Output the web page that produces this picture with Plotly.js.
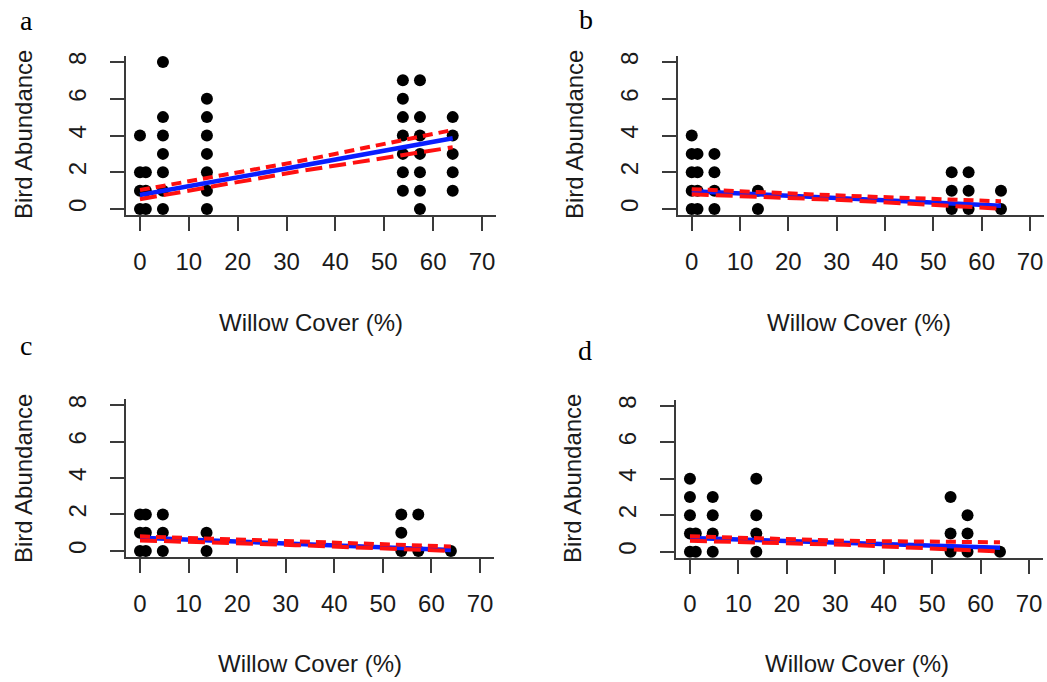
<!DOCTYPE html>
<html>
<head>
<meta charset="utf-8">
<script src="https://cdn.plot.ly/plotly-3.0.1.min.js"></script>
<style>
  html, body { margin: 0; padding: 0; background: #ffffff; }
  #chart { width: 1047px; height: 682px; }
</style>
</head>
<body>
<div id="chart"></div>
<script>
// ---------- DATA ----------
const panelLabels = ["a", "b", "c", "d"];
const xTickVals = [0, 10, 20, 30, 40, 50, 60, 70];
const yTickVals = [0, 2, 4, 6, 8];
const xTitle = "Willow Cover (%)";
const yTitle = "Bird Abundance";

// Panel a – observed points
const aCover = [0,0,0,0, 1.2,1.2,1.2, 4.7,4.7,4.7,4.7,4.7,4.7,4.7, 13.7,13.7,13.7,13.7,13.7,13.7,13.7, 53.8,53.8,53.8,53.8,53.8,53.8,53.8, 57.3,57.3,57.3,57.3,57.3,57.3,57.3, 64,64,64,64,64];
const aAbund = [4,2,1,0, 2,1,0, 8,5,4,3,2,1,0, 6,5,4,3,2,1,0, 7,6,5,4,3,2,1, 7,5,4,3,2,1,0, 5,4,3,2,1];
// Panel b
const bCover = [0,0,0,0,0, 1.2,1.2,1.2,1.2, 4.7,4.7,4.7,4.7, 13.7,13.7, 53.8,53.8,53.8, 57.3,57.3,57.3, 64,64];
const bAbund = [4,3,2,1,0, 3,2,1,0, 3,2,1,0, 1,0, 2,1,0, 2,1,0, 1,0];
// Panel c
const cCover = [0,0,0, 1.2,1.2,1.2, 4.7,4.7,4.7, 13.7,13.7, 53.8,53.8,53.8, 57.3,57.3, 64];
const cAbund = [2,1,0, 2,1,0, 2,1,0, 1,0, 2,1,0, 2,0, 0];
// Panel d
const dCover = [0,0,0,0,0, 1.2,1.2, 4.7,4.7,4.7,4.7, 13.7,13.7,13.7,13.7, 53.8,53.8,53.8, 57.3,57.3,57.3, 64];
const dAbund = [4,3,2,1,0, 1,0, 3,2,1,0, 4,2,1,0, 3,1,0, 2,1,0, 0];

// Fitted line and confidence limits (read at three cover values)
const fitCover = [0, 32, 64];
const aFit   = [0.76, 2.30, 3.85];
const aUpper = [1.03, 2.57, 4.30];
const aLower = [0.53, 2.03, 3.36];
const bFit   = [0.97, 0.58, 0.18];
const bUpper = [1.08, 0.72, 0.42];
const bLower = [0.80, 0.48, 0.02];
const cFit   = [0.73, 0.40, 0.05];
const cUpper = [0.80, 0.50, 0.25];
const cLower = [0.58, 0.32, 0.00];
const dFit   = [0.76, 0.49, 0.22];
const dUpper = [0.85, 0.60, 0.52];
const dLower = [0.60, 0.38, 0.02];

// ---------- LAYOUT GEOMETRY ----------
const W = 1047, H = 682;
const panels = [
  {cover: aCover, abund: aAbund, fit: aFit, up: aUpper, lo: aLower, px: [126.3, 495.7], py: [214.9, 56.1],
   lab: [26, 21], ytl: [23, 135], xtl: [311, 322]},
  {cover: bCover, abund: bAbund, fit: bFit, up: bUpper, lo: bLower, px: [678.2, 1043.5], py: [214.9, 56.1],
   lab: [586, 20], ytl: [574, 135], xtl: [859, 322]},
  {cover: cCover, abund: cAbund, fit: cFit, up: cUpper, lo: cLower, px: [126.4, 493.6], py: [556.8, 399.2],
   lab: [26, 345], ytl: [23, 479], xtl: [310, 663]},
  {cover: dCover, abund: dAbund, fit: dFit, up: dUpper, lo: dLower, px: [676.4, 1042.6], py: [557.6, 399.8],
   lab: [585, 350], ytl: [572, 479], xtl: [857, 663]}
];

const axisColor = "#3a3a3a";
const tickFont = {family: "Liberation Sans, Arial, sans-serif", size: 24, color: "#1a1a1a"};

const traces = [];
const layout = {
  width: W, height: H,
  margin: {l: 0, r: 0, t: 0, b: 0},
  paper_bgcolor: "#ffffff",
  plot_bgcolor: "rgba(0,0,0,0)",
  showlegend: false,
  annotations: []
};

panels.forEach((p, i) => {
  const n = i === 0 ? "" : String(i + 1);
  const xa = "x" + n, ya = "y" + n;
  traces.push({
    type: "scatter", mode: "markers", x: p.cover, y: p.abund, xaxis: xa, yaxis: ya,
    marker: {color: "#000000", size: 12}, cliponaxis: false, hoverinfo: "skip"
  });
  traces.push({
    type: "scatter", mode: "lines", x: fitCover, y: p.fit, xaxis: xa, yaxis: ya,
    line: {color: "#0a1eff", width: 4.5}, hoverinfo: "skip"
  });
  traces.push({
    type: "scatter", mode: "lines", x: fitCover, y: p.up, xaxis: xa, yaxis: ya,
    line: {color: "#ff1010", width: 4, dash: "10px,6px"}, hoverinfo: "skip"
  });
  traces.push({
    type: "scatter", mode: "lines", x: fitCover, y: p.lo, xaxis: xa, yaxis: ya,
    line: {color: "#ff1010", width: 4, dash: "17px,7px"}, hoverinfo: "skip"
  });

  layout["xaxis" + n] = {
    domain: [p.px[0] / W, p.px[1] / W], anchor: ya,
    range: [-2.8, 72.8], tickmode: "array", tickvals: xTickVals,
    ticks: "outside", ticklen: 14, tickwidth: 2, tickcolor: axisColor,
    showline: true, linecolor: axisColor, linewidth: 2,
    showgrid: false, zeroline: false, tickfont: tickFont, ticklabelstandoff: 10,
    fixedrange: true
  };
  layout["yaxis" + n] = {
    domain: [(H - p.py[0]) / H, (H - p.py[1]) / H], anchor: xa,
    range: [-0.32, 8.32], tickmode: "array", tickvals: yTickVals,
    ticks: "outside", ticklen: 14, tickwidth: 2, tickcolor: axisColor,
    showline: true, linecolor: axisColor, linewidth: 2, tickangle: -90,
    showgrid: false, zeroline: false, tickfont: tickFont, ticklabelstandoff: 15,
    fixedrange: true
  };

  layout.annotations.push({
    xref: "paper", yref: "paper", x: p.lab[0] / W, y: 1 - p.lab[1] / H,
    xanchor: "center", yanchor: "middle", showarrow: false, text: panelLabels[i],
    font: {family: "Liberation Serif, Times New Roman, serif", size: 28, color: "#000000"}
  });
  layout.annotations.push({
    xref: "paper", yref: "paper", x: p.ytl[0] / W, y: 1 - p.ytl[1] / H,
    xanchor: "center", yanchor: "middle", showarrow: false, text: yTitle, textangle: -90,
    font: {family: "Liberation Sans, Arial, sans-serif", size: 24, color: "#1a1a1a"}
  });
  layout.annotations.push({
    xref: "paper", yref: "paper", x: p.xtl[0] / W, y: 1 - p.xtl[1] / H,
    xanchor: "center", yanchor: "middle", showarrow: false, text: xTitle,
    font: {family: "Liberation Sans, Arial, sans-serif", size: 24, color: "#1a1a1a"}
  });
});

Plotly.newPlot("chart", traces, layout, {staticPlot: true, displayModeBar: false});
</script>
</body>
</html>
